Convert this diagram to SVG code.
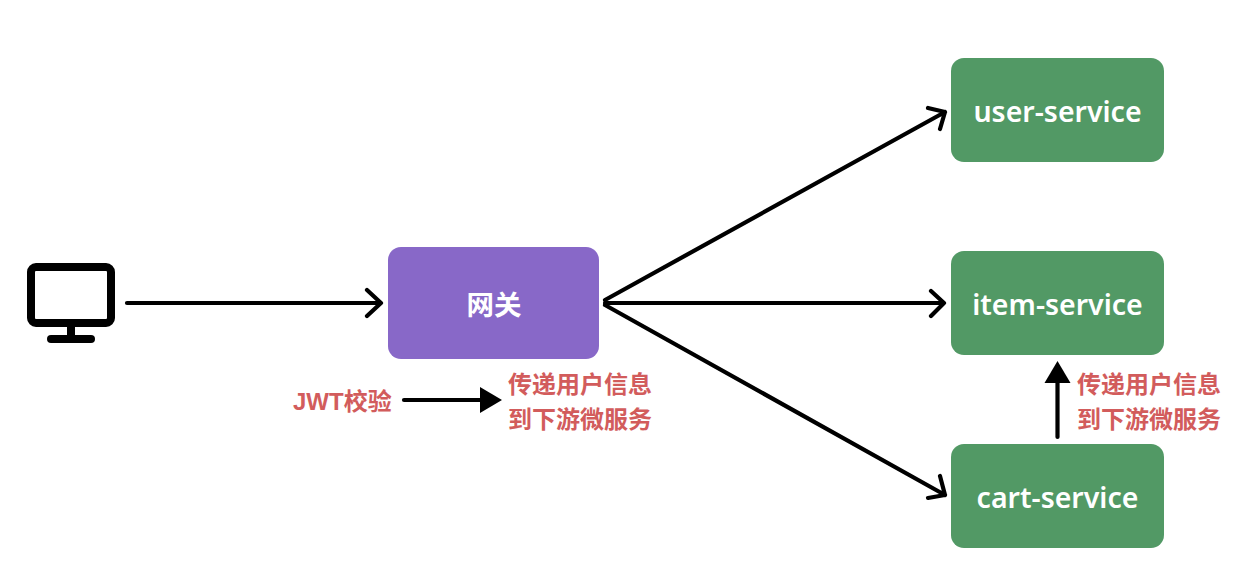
<svg xmlns="http://www.w3.org/2000/svg" width="1242" height="570" viewBox="0 0 1242 570">
<style>
.svc{fill:#529965}
.lbl{font-family:"Noto Sans","Noto Sans CJK SC",sans-serif;font-weight:600;fill:#fff;text-anchor:middle;font-size:28.500px}
.cjk{font-weight:700;font-size:27.500px}
.red{font-family:"Liberation Sans","Noto Sans CJK SC",sans-serif;font-weight:700;fill:#d25c5c;font-size:24px}
.ln{fill:none;stroke:#000;stroke-width:4.200;stroke-linecap:round;stroke-linejoin:round}
.ic{fill:none;stroke:#000;stroke-linecap:round;stroke-linejoin:round;stroke-width:8}
</style>
<rect width="1242" height="570" fill="#fff"/>
<g id="client">
<rect x="31" y="267" width="80" height="56" rx="5" class="ic"/>
<path d="M71 323V339" class="ic"/>
<path d="M51 339H91" class="ic"/>
</g>
<g id="gateway">
<rect x="388" y="247" width="211" height="112" rx="13" fill="#8868c8"/>
<text x="494" y="314.500" class="lbl cjk">网关</text>
</g>
<g id="user-service">
<rect x="951" y="58" width="213" height="104" rx="13" class="svc"/>
<text x="1057.500" y="122" class="lbl">user-service</text>
</g>
<g id="item-service">
<rect x="951" y="251" width="213" height="104" rx="13" class="svc"/>
<text x="1057.500" y="315" class="lbl">item-service</text>
</g>
<g id="cart-service">
<rect x="951" y="444" width="213" height="104" rx="13" class="svc"/>
<text x="1057.500" y="508" class="lbl">cart-service</text>
</g>
<g id="connectors">
<path d="M127 303H381M367 290L381 303L367 316" class="ln"/>
<path d="M605 300L945 112M928 108L945 112L940 129" class="ln"/>
<path d="M605 303H944M931 291L944 303L931 316" class="ln"/>
<path d="M605 305L945 495M928 498L945 495L940 476" class="ln"/>
<path d="M404 400H481" class="ln"/>
<path d="M480 387L502 400L480 413Z" fill="#000"/>
<path d="M1057.500 437V383" class="ln"/>
<path d="M1057.500 361L1070.500 383H1044.500Z" fill="#000"/>
</g>
<g id="labels">
<text x="293" y="410" class="red">JWT校验</text>
<text x="508" y="393" class="red">传递用户信息</text>
<text x="508" y="428" class="red">到下游微服务</text>
<text x="1077" y="393" class="red">传递用户信息</text>
<text x="1077" y="428" class="red">到下游微服务</text>
</g>
</svg>
